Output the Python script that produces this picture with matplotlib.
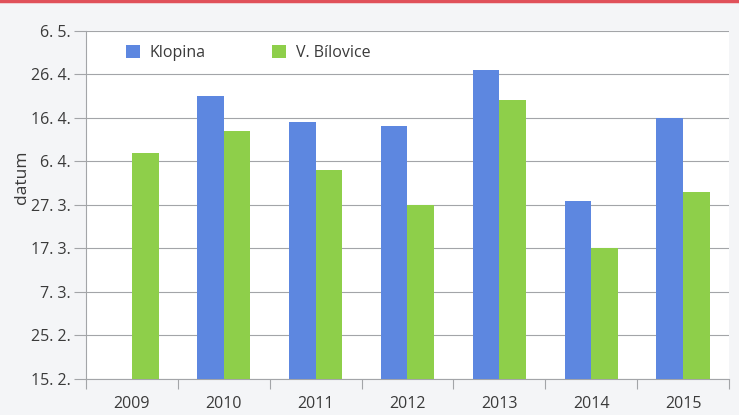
import numpy as np
import matplotlib.pyplot as plt
import matplotlib

matplotlib.rcParams["font.family"] = ["Open Sans", "DejaVu Sans"]

# roky a datum (den v roce) pro obe lokality
years = ["2009", "2010", "2011", "2012", "2013", "2014", "2015"]
klopina = [np.nan, 111, 105, 104, 117, 87, 106]
bilovice = [98, 103, 94, 86, 110, 76, 89]

# popisky osy y: datum po 10 dnech od 15. 2.
tick_days = [46, 56, 66, 76, 86, 96, 106, 116, 126]
tick_labels = ["15. 2.", "25. 2.", "7. 3.", "17. 3.", "27. 3.",
               "6. 4.", "16. 4.", "26. 4.", "6. 5."]

BLUE = "#5d87e0"
GREEN = "#8ecf4a"
GRID = "#a3a5a8"
TEXT = "#3a3a3a"

fig = plt.figure(figsize=(7.39, 4.15), dpi=100, facecolor="#f4f5f7")
ax = fig.add_axes([0.1164, 0.0867, 0.870, 0.8393])
ax.set_facecolor("white")

x = np.arange(len(years))
w = 0.29
ax.bar(x - w / 2, klopina, width=w, color=BLUE, label="Klopina", zorder=3)
ax.bar(x + w / 2, bilovice, width=w, color=GREEN, label="V. Bílovice", zorder=3)

ax.set_xlim(-0.5, len(years) - 0.5)
ax.set_ylim(46, 126)

ax.set_yticks(tick_days)
ax.set_yticklabels(tick_labels, fontsize=11.5, color=TEXT)
ax.yaxis.grid(True, color=GRID, linewidth=0.8, zorder=0)
ax.tick_params(axis="y", length=9, color=GRID, width=0.8, pad=2)

# hranice kategorii jako carky dolu, popisky roku mezi nimi
ax.set_xticks(np.arange(len(years) + 1) - 0.5)
ax.set_xticklabels([])
ax.set_xticks(x, minor=True)
ax.set_xticklabels(years, minor=True, fontsize=11.5, color=TEXT)
ax.tick_params(axis="x", which="major", length=7, color=GRID, width=0.8)
ax.tick_params(axis="x", which="minor", length=0, pad=12)

for side in ["top", "right"]:
    ax.spines[side].set_visible(False)
for side in ["left", "bottom"]:
    ax.spines[side].set_color(GRID)
    ax.spines[side].set_linewidth(0.8)

ax.set_ylabel("datum", fontsize=12.5, color=TEXT)
ax.yaxis.set_label_coords(-0.087, 0.58)

ax.legend(loc="upper left", ncol=2, frameon=False, fontsize=11.5,
          handlelength=0.85, handleheight=0.85, columnspacing=4.2,
          handletextpad=0.6, bbox_to_anchor=(0.04, 1.0),
          labelcolor=TEXT)

# cervena linka nahore
fig.add_artist(plt.Line2D([0, 1], [0.997, 0.997], color="#e0515a",
                          linewidth=2.5, transform=fig.transFigure))

fig.savefig("out.png", dpi=100, facecolor=fig.get_facecolor())
